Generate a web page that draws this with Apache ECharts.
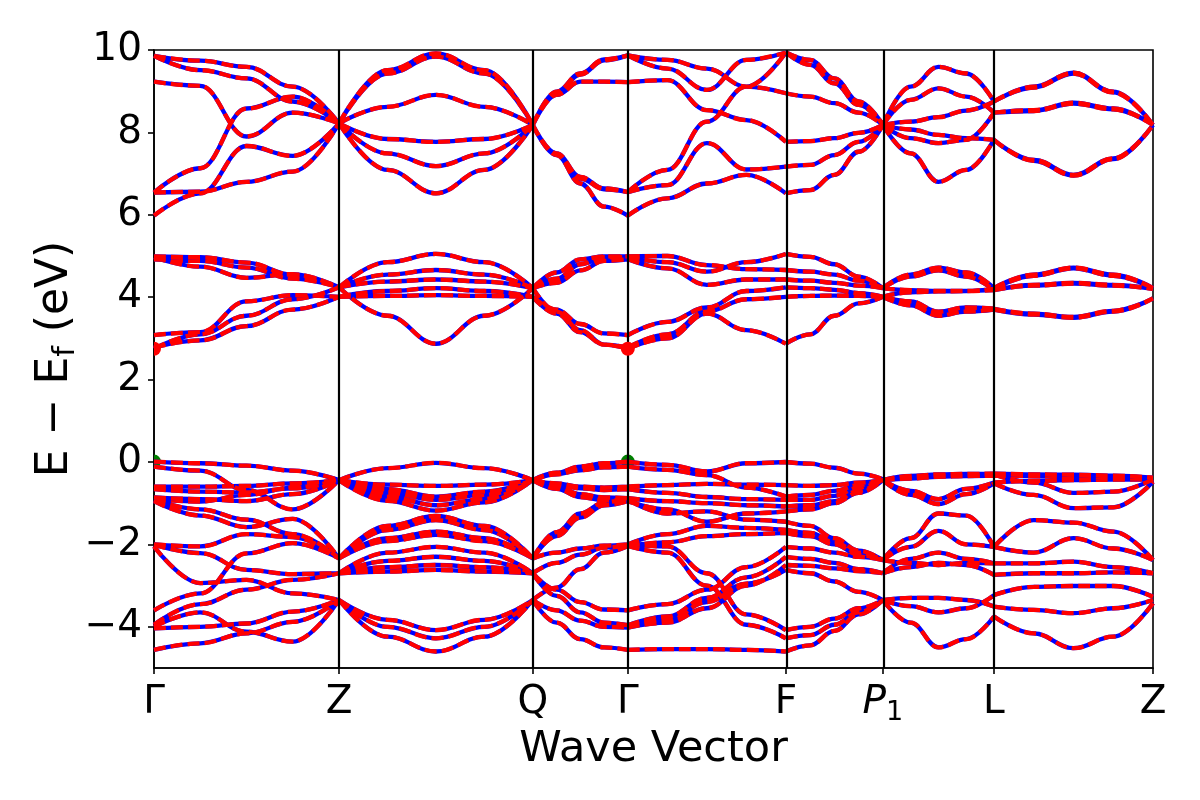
<!DOCTYPE html>
<html><head><meta charset="utf-8">
<script src="https://cdn.jsdelivr.net/npm/echarts@6/dist/echarts.min.js"></script>
<style>html,body{margin:0;padding:0;background:#fff}#c{width:1200px;height:800px}</style>
</head><body><div id="c"></div>
<script>
// High-symmetry path
const kLabels = ['Γ', 'Z', 'Q', 'Γ', 'F', 'P1', 'L', 'Z'];
const kTicks = [0, 1.852, 3.792, 4.743, 6.325, 7.296, 8.408, 10.0];
const yTicks = [-4, -2, 0, 2, 4, 6, 8, 10];
// fractional positions of the sampled k-points inside each segment
const sampleT = [0, 0.25, 0.5, 0.75, 1];

// band energies (eV) per segment, one row per band
const bandsGZ = [
[9.86,9.74,9.59,9.11,8.22],[9.86,9.51,9.31,8.75,8.22],[9.23,9.13,7.90,8.48,8.22],
[6.54,7.13,8.58,8.87,8.22],[6.54,6.56,6.80,7.05,8.22],[5.98,6.52,7.67,7.43,8.22],
[4.99,4.97,4.84,4.54,4.24],[4.97,4.74,4.47,4.56,4.24],[4.92,4.88,4.72,4.45,4.24],
[3.08,3.15,3.90,4.05,4.01],[2.78,2.95,3.30,3.70,4.01],[2.75,3.10,3.55,3.95,4.24],
[0.01,-0.03,-0.09,-0.21,-0.44],[-0.11,-0.21,-0.68,-1.15,-0.44],[-0.60,-0.60,-0.58,-0.52,-0.44],
[-0.66,-0.72,-0.74,-0.64,-0.44],[-0.86,-0.90,-0.95,-0.78,-0.44],[-0.90,-0.96,-0.80,-0.62,-0.44],
[-0.92,-1.15,-1.40,-1.75,-2.34],[-0.95,-1.30,-1.58,-1.38,-2.34],[-2.00,-2.05,-1.75,-1.82,-2.34],
[-2.01,-2.21,-2.62,-2.72,-2.70],[-2.05,-2.94,-2.86,-3.19,-3.35],[-3.60,-3.19,-2.22,-1.97,-2.34],
[-3.95,-3.45,-3.10,-2.86,-2.70],[-4.00,-3.65,-4.12,-4.36,-3.35],[-4.04,-4.00,-3.92,-3.63,-3.35],
[-4.56,-4.40,-4.16,-3.88,-3.35]
];
const bandsZQ = [
[8.22,9.51,9.92,9.51,8.18],[8.22,9.43,9.84,9.43,8.18],[8.22,8.62,8.91,8.62,8.18],
[8.22,7.84,7.77,7.84,8.18],[8.22,7.49,7.18,7.49,8.18],[8.22,7.09,6.52,7.09,8.18],
[4.24,4.85,5.05,4.85,4.22],[4.24,4.55,4.66,4.55,4.22],[4.24,4.38,4.43,4.38,4.22],
[4.01,4.15,4.22,4.15,4.01],[4.01,4.03,4.05,4.03,4.01],[4.24,3.55,2.87,3.55,4.22],
[-0.44,-0.15,-0.02,-0.15,-0.44],[-0.44,-0.55,-0.58,-0.55,-0.44],[-0.44,-0.66,-0.84,-0.72,-0.44],
[-0.44,-0.74,-0.92,-0.80,-0.44],[-0.44,-0.84,-1.05,-0.90,-0.44],[-0.44,-0.94,-1.18,-0.98,-0.44],
[-2.34,-1.55,-1.31,-1.55,-2.34],[-2.34,-1.65,-1.41,-1.65,-2.34],[-2.34,-1.85,-1.69,-1.85,-2.34],
[-2.34,-1.92,-1.77,-1.92,-2.34],[-2.70,-2.20,-2.06,-2.20,-2.70],[-2.70,-2.40,-2.30,-2.40,-2.70],
[-2.70,-2.55,-2.50,-2.55,-2.70],[-2.70,-2.66,-2.62,-2.66,-2.70],[-3.35,-3.83,-4.08,-3.83,-3.35],
[-3.35,-4.00,-4.28,-4.00,-3.35],[-3.35,-4.24,-4.60,-4.24,-3.35]
];
const bandsQG = [
[8.18,8.99,9.43,9.77,9.87],[8.18,8.95,9.40,9.75,9.87],[8.18,8.91,9.23,9.23,9.22],
[8.18,7.49,6.92,6.64,6.55],[8.18,7.45,6.88,6.62,6.55],[8.18,7.45,6.76,6.20,5.98],
[4.22,4.60,4.92,4.99,4.99],[4.22,4.45,4.80,4.97,4.97],[4.22,4.35,4.65,4.88,4.92],
[4.01,3.70,3.35,3.12,3.08],[4.01,3.60,3.15,2.85,2.78],[4.22,3.65,3.20,2.85,2.75],
[-0.44,-0.26,-0.11,-0.03,0.01],[-0.44,-0.30,-0.20,-0.13,-0.11],[-0.44,-0.52,-0.60,-0.62,-0.60],
[-0.44,-0.55,-0.64,-0.68,-0.66],[-0.44,-0.60,-0.78,-0.86,-0.88],[-0.44,-0.65,-0.85,-0.93,-0.95],
[-2.34,-1.70,-1.25,-0.98,-0.88],[-2.34,-1.80,-1.35,-1.05,-0.95],[-2.34,-2.20,-2.10,-2.03,-2.00],
[-2.70,-2.45,-2.25,-2.08,-2.02],[-3.35,-3.05,-2.60,-2.20,-2.04],[-2.70,-3.10,-3.40,-3.58,-3.60],
[-2.70,-3.25,-3.65,-3.90,-3.96],[-3.35,-3.60,-3.85,-4.00,-4.02],[-3.35,-3.90,-4.30,-4.50,-4.56]
];
const bandsGF = [
[9.87,9.76,9.55,9.11,8.95],[9.87,9.55,9.03,9.76,9.94],[9.22,9.27,8.54,8.30,7.77],
[6.55,7.09,8.26,9.11,9.94],[6.55,6.72,7.74,7.10,7.17],[5.98,6.40,6.76,6.97,6.52],
[4.99,5.00,4.78,4.68,4.66],[4.97,4.85,4.62,4.85,5.05],[4.92,4.70,4.30,4.43,4.43],
[3.08,3.40,3.75,4.15,4.24],[2.78,3.10,3.65,3.95,4.01],[2.75,3.00,3.60,3.20,2.87],
[0.01,-0.07,-0.23,-0.03,0.00],[-0.11,-0.19,-0.32,-0.62,-0.84],[-0.60,-0.56,-0.53,-0.55,-0.56],
[-0.66,-0.75,-0.85,-0.90,-0.92],[-0.88,-0.95,-1.00,-1.05,-1.08],[-0.95,-1.15,-1.45,-1.25,-1.20],
[-0.92,-1.25,-1.20,-1.40,-1.45],[-2.00,-1.75,-1.55,-1.60,-1.65],[-2.04,-1.95,-1.80,-1.75,-1.72],
[-2.00,-2.05,-2.70,-3.70,-4.08],[-2.04,-2.20,-3.00,-3.95,-4.28],[-3.60,-3.45,-3.10,-2.55,-2.06],
[-3.96,-3.75,-3.30,-2.80,-2.30],[-4.02,-3.90,-3.55,-3.00,-2.50],[-4.00,-3.85,-3.40,-2.95,-2.62],
[-4.56,-4.54,-4.54,-4.56,-4.60]
];
const bandsFP = [
[8.95,8.87,8.71,8.48,8.18],[9.94,9.76,9.31,8.75,8.18],[7.77,7.79,7.86,7.99,8.18],
[9.94,9.64,9.19,8.67,8.18],[7.17,7.21,7.45,7.77,8.18],[6.52,6.60,6.97,7.53,8.18],
[4.66,4.62,4.55,4.40,4.22],[5.05,4.98,4.80,4.50,4.22],[4.43,4.40,4.35,4.28,4.22],
[4.24,4.22,4.18,4.10,4.01],[4.01,4.03,4.04,4.03,4.01],[2.87,3.10,3.55,3.85,4.01],
[0.00,-0.04,-0.14,-0.28,-0.42],[-0.56,-0.58,-0.56,-0.50,-0.44],[-0.84,-0.80,-0.70,-0.56,-0.44],
[-0.92,-0.92,-0.82,-0.62,-0.44],[-1.08,-1.05,-0.95,-0.70,-0.44],[-1.20,-1.15,-1.00,-0.75,-0.44],
[-1.45,-1.55,-1.85,-2.15,-2.38],[-1.65,-1.72,-1.95,-2.20,-2.38],[-1.72,-1.80,-2.00,-2.25,-2.38],
[-2.06,-2.10,-2.20,-2.30,-2.38],[-2.30,-2.35,-2.45,-2.60,-2.70],[-2.50,-2.52,-2.58,-2.65,-2.70],
[-2.62,-2.70,-2.90,-3.15,-3.35],[-4.08,-4.00,-3.80,-3.55,-3.35],[-4.28,-4.20,-3.95,-3.65,-3.35],
[-4.60,-4.45,-4.10,-3.70,-3.35]
];
const bandsPL = [
[8.18,9.11,9.59,9.43,8.75],[8.18,8.79,9.07,8.87,8.48],[8.18,8.26,8.37,8.53,8.75],
[8.18,8.07,7.94,7.86,7.82],[8.18,7.86,7.74,7.82,8.48],[8.18,7.49,6.80,7.09,7.82],
[4.22,4.55,4.72,4.60,4.22],[4.22,4.50,4.65,4.50,4.17],[4.22,4.17,4.15,4.15,4.17],
[4.01,4.12,4.14,4.15,4.20],[4.01,3.80,3.55,3.65,3.70],[4.01,3.90,3.65,3.75,3.72],
[-0.44,-0.34,-0.30,-0.29,-0.28],[-0.44,-0.36,-0.32,-0.31,-0.30],[-0.44,-0.40,-0.36,-0.34,-0.33],
[-0.44,-0.80,-1.02,-0.78,-0.52],[-0.44,-0.70,-0.90,-0.65,-0.50],[-2.38,-1.85,-1.25,-1.30,-2.06],
[-2.38,-2.06,-1.67,-2.00,-2.06],[-2.38,-2.45,-2.50,-2.45,-2.46],[-2.70,-2.35,-2.20,-2.35,-2.46],
[-2.70,-2.55,-2.45,-2.50,-2.74],[-3.35,-3.30,-3.30,-3.35,-3.51],[-3.35,-3.50,-3.65,-3.55,-3.23],
[-3.35,-3.90,-4.50,-4.30,-3.75]
];
const bandsLZ = [
[8.75,9.11,9.45,8.99,8.18],[8.48,8.54,8.72,8.58,8.18],[8.75,9.09,9.43,8.97,8.18],
[7.82,7.33,6.97,7.37,8.18],[8.48,8.52,8.70,8.56,8.18],[7.82,7.31,6.95,7.35,8.18],
[4.22,4.55,4.72,4.55,4.22],[4.17,4.30,4.35,4.30,4.20],[4.17,4.28,4.33,4.28,4.20],
[4.20,4.52,4.70,4.52,4.22],[3.70,3.58,3.50,3.65,3.97],[3.72,3.60,3.52,3.67,3.97],
[-0.28,-0.30,-0.31,-0.33,-0.38],[-0.30,-0.50,-0.75,-0.72,-0.42],[-0.52,-0.80,-1.12,-1.10,-0.48],
[-0.33,-0.34,-0.36,-0.38,-0.40],[-0.50,-0.46,-0.44,-0.43,-0.42],[-2.06,-1.41,-1.47,-1.69,-2.38],
[-2.06,-2.20,-1.85,-2.10,-2.38],[-2.46,-2.46,-2.42,-2.55,-2.70],[-2.74,-2.70,-2.70,-2.68,-2.70],
[-3.23,-3.03,-3.01,-3.01,-3.27],[-3.51,-3.59,-3.67,-3.55,-3.35],[-3.75,-4.16,-4.52,-4.24,-3.43]
];
const segments = [bandsGZ, bandsZQ, bandsQG, bandsGF, bandsFP, bandsPL, bandsLZ];

// band extrema markers
const cbmPoints = [[0, 2.75], [4.743, 2.75]];
const vbmPoints = [[0, 0.01], [4.743, 0.01]];

function buildLineData() {
  const out = [];
  segments.forEach((seg, s) => {
    const x0 = kTicks[s], x1 = kTicks[s + 1];
    seg.forEach(curve => {
      curve.forEach((e, i) => out.push([x0 + (x1 - x0) * sampleT[i], e]));
      out.push([x1, '-']);
    });
  });
  return out;
}
const lineData = buildLineData();
const FONT = 'DejaVu Sans';

function dotSeries(points, color, z) {
  return {
    type: 'custom', z: z, silent: true, data: points,
    renderItem: function (params, api) {
      const p = api.coord([api.value(0), api.value(1)]);
      const cs = params.coordSys;
      return {
        type: 'group',
        clipPath: { type: 'rect', shape: { x: cs.x, y: cs.y, width: cs.width, height: cs.height } },
        children: [{ type: 'circle', shape: { cx: p[0], cy: p[1], r: 7 }, style: { fill: color } }]
      };
    }
  };
}

const chart = echarts.init(document.getElementById('c'), null, { renderer: 'canvas' });
chart.setOption({
  animation: false,
  backgroundColor: '#ffffff',
  grid: { left: 154, right: 47, top: 50, bottom: 132, containLabel: false, outerBoundsMode: 'none',
          show: true, borderColor: '#000', borderWidth: 1.6, backgroundColor: 'transparent' },
  xAxis: {
    type: 'value', min: 0, max: 10,
    axisLine: { show: true, onZero: false, lineStyle: { color: '#000', width: 1.6 } },
    axisTick: { show: true, customValues: kTicks, length: 6, lineStyle: { color: '#000', width: 1.6 } },
    splitLine: { show: false },
    axisLabel: {
      customValues: kTicks, margin: 12, color: '#000', fontFamily: FONT, fontSize: 39,
      formatter: function (v) {
        let idx = 0, best = 1e9;
        kTicks.forEach((t, i) => { if (Math.abs(t - v) < best) { best = Math.abs(t - v); idx = i; } });
        const lab = kLabels[idx];
        if (lab === 'P1') return '{it|P}{sub|1}';
        return '{n|' + lab + '}';
      },
      rich: {
        n: { fontSize: 39, fontFamily: FONT, color: '#000', lineHeight: 46 },
        it: { fontSize: 39, fontFamily: FONT, fontStyle: 'italic', color: '#000', lineHeight: 46 },
        sub: { fontSize: 27, fontFamily: FONT, color: '#000', lineHeight: 22, verticalAlign: 'bottom' }
      }
    },
    name: 'Wave Vector', nameLocation: 'middle', nameGap: 60, nameMoveOverlap: false,
    nameTextStyle: { fontSize: 43, fontFamily: FONT, color: '#000' }
  },
  yAxis: {
    type: 'value', min: -5, max: 10,
    axisLine: { show: true, onZero: false, lineStyle: { color: '#000', width: 1.6 } },
    axisTick: { show: true, customValues: yTicks, length: 6, lineStyle: { color: '#000', width: 1.6 } },
    splitLine: { show: false },
    axisLabel: {
      customValues: yTicks, margin: 12, color: '#000', fontFamily: FONT, fontSize: 39,
      formatter: v => (v < 0 ? '\u2212' + Math.abs(v) : String(v))
    },
    name: '{a|E \u2212 E}{s|f}{a| (eV)}', nameLocation: 'middle', nameGap: 73, nameMoveOverlap: false,
    nameTextStyle: {
      color: '#000', fontFamily: FONT, fontSize: 44,
      rich: {
        a: { fontSize: 44, fontFamily: FONT, color: '#000', lineHeight: 50 },
        s: { fontSize: 30, fontFamily: FONT, color: '#000', lineHeight: 24, verticalAlign: 'bottom' }
      }
    }
  },
  series: [
    {
      type: 'line', z: 1, silent: true, data: [], symbol: 'none',
      markLine: {
        silent: true, symbol: ['none', 'none'], label: { show: false },
        lineStyle: { color: '#000', width: 2.2, type: 'solid' },
        data: kTicks.slice(1, -1).map(v => ({ xAxis: v }))
      }
    },
    dotSeries(vbmPoints, '#008000', 2),
    {
      type: 'line', z: 3, silent: true, data: lineData, showSymbol: false, symbol: 'none',
      smooth: 0.4, smoothMonotone: 'x', connectNulls: false, clip: true,
      lineStyle: { color: '#0000ff', width: 4.3, type: 'solid' }
    },
    {
      type: 'line', z: 4, silent: true, data: lineData, showSymbol: false, symbol: 'none',
      smooth: 0.4, smoothMonotone: 'x', connectNulls: false, clip: true,
      lineStyle: { color: '#ff0000', width: 4.3, type: [12, 5], cap: 'butt' }
    },
    dotSeries(cbmPoints, '#ff0000', 5)
  ]
});
</script>
</body></html>
